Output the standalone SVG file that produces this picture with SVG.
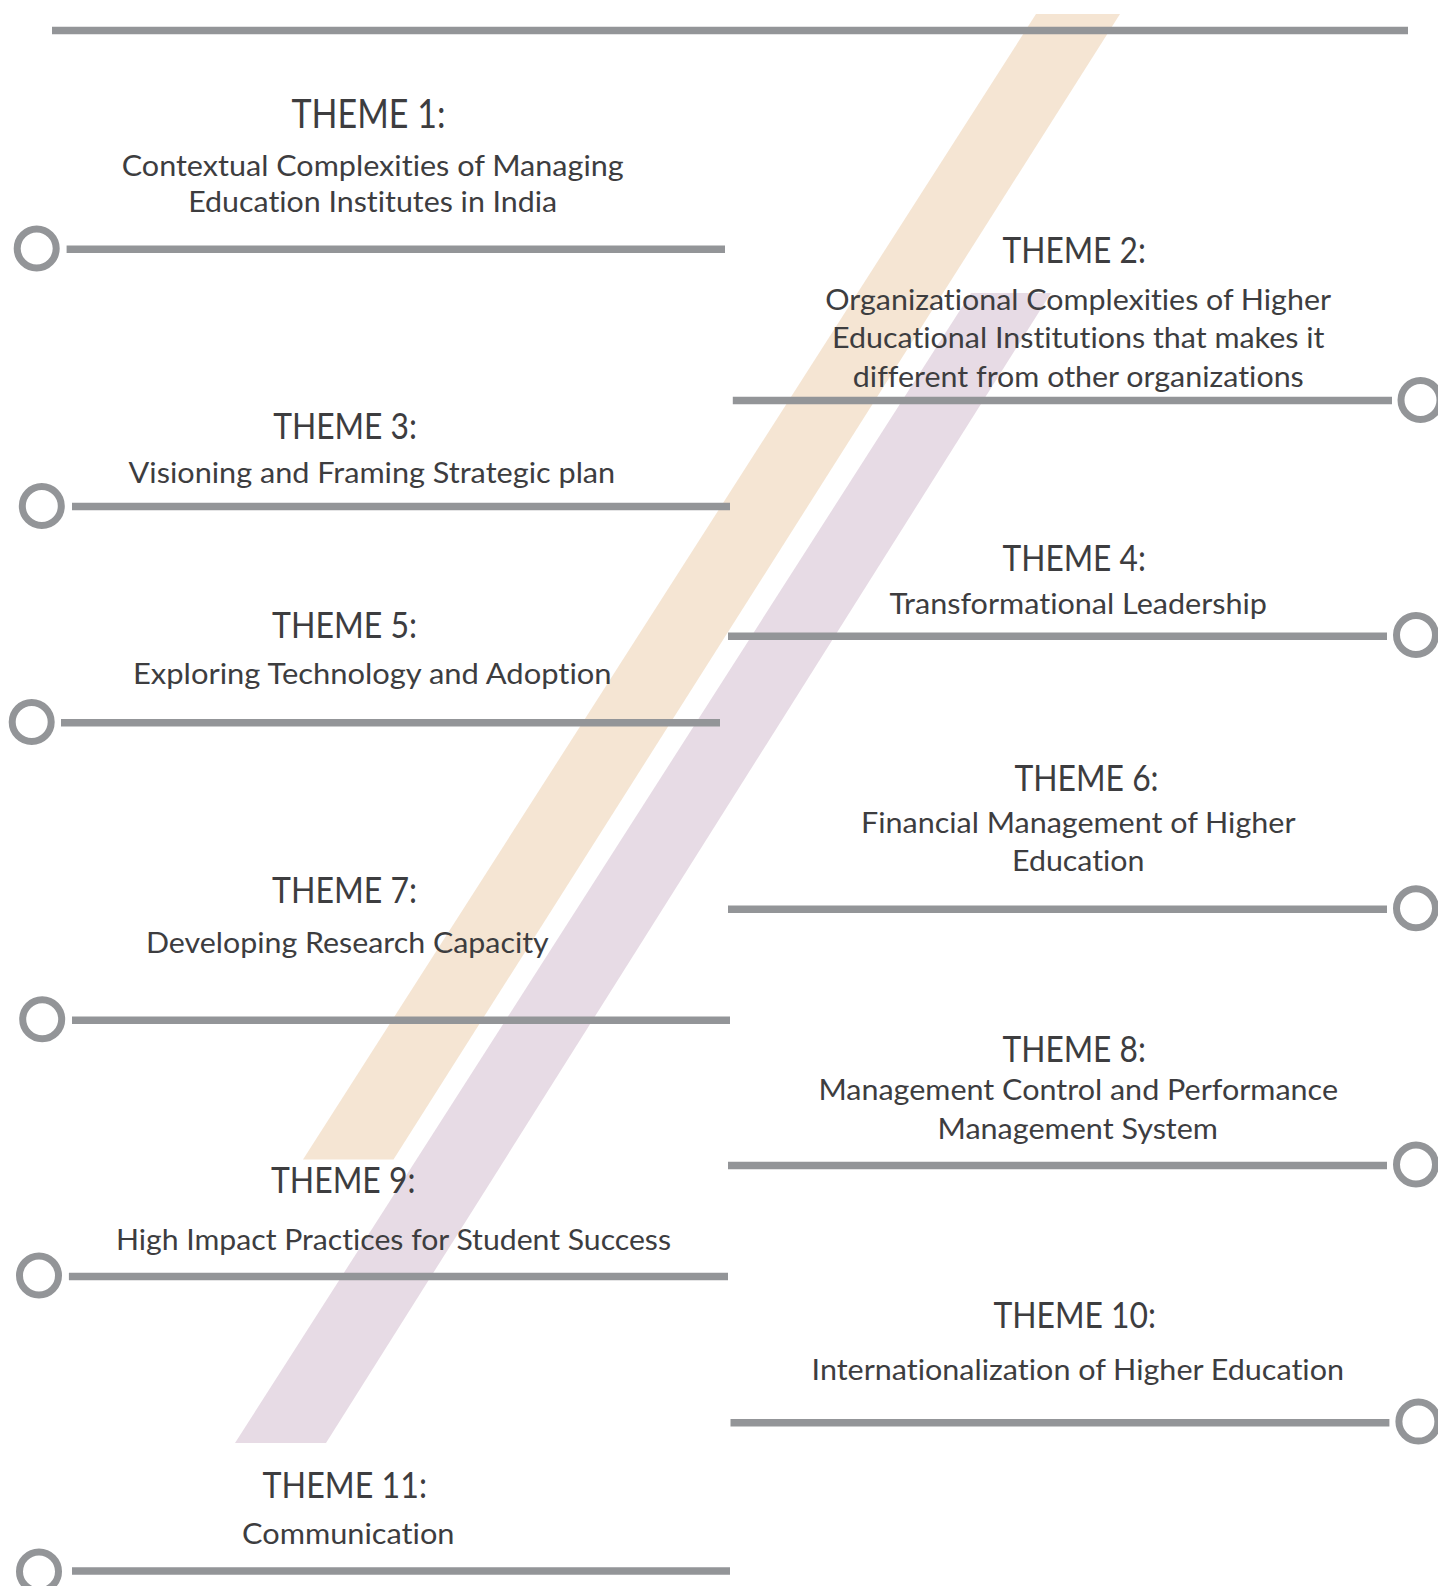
<svg xmlns="http://www.w3.org/2000/svg" width="1438" height="1586" viewBox="0 0 1438 1586">
<style>
.bo{fill:#f5e5d3}
.bp{fill:#e7dbe5}
.rule{stroke:#939598;stroke-width:7.5;fill:none}
.ring{fill:#fff;stroke:#939598;stroke-width:7}
text{font-family:Lato,"Open Sans","Liberation Sans",sans-serif;fill:#3d3d3f;font-variant-ligatures:none}
.t{font-size:37px}
.t1{font-size:40px}
.b{font-size:29px}
</style>
<rect width="1438" height="1586" fill="#fff"/>
<g id="bands">
<polygon class="bo" points="1036,14 1120,14 393.5,1159.4 303,1159.4"/>
<polygon class="bp" points="971,293 1051,293 326,1443 235,1443"/>
</g>
<g id="connectors">
<line class="rule" x1="52" y1="30.4" x2="1408" y2="30.4"/>
</g>
<g id="theme1">
<line class="rule" x1="66.6" y1="249.3" x2="725" y2="249.3"/>
<circle class="ring" cx="36.7" cy="248.5" r="19.5"/>
<text class="t1" x="291.5" y="128.3" textLength="154" lengthAdjust="spacingAndGlyphs">THEME 1:</text>
<text class="b" x="121.7" y="175.7" textLength="502" lengthAdjust="spacingAndGlyphs">Contextual Complexities of Managing</text>
<text class="b" x="188.2" y="211.7" textLength="369" lengthAdjust="spacingAndGlyphs">Education Institutes in India</text>
</g>
<g id="theme2">
<line class="rule" x1="732.8" y1="400.5" x2="1392" y2="400.5"/>
<circle class="ring" cx="1420.5" cy="400" r="19.5"/>
<text class="t" x="1002.5" y="263.3" textLength="143.3" lengthAdjust="spacingAndGlyphs">THEME 2:</text>
<text class="b" x="825.3" y="310" textLength="505.7" lengthAdjust="spacingAndGlyphs">Organizational Complexities of Higher</text>
<text class="b" x="832" y="348.3" textLength="492.4" lengthAdjust="spacingAndGlyphs">Educational Institutions that makes it</text>
<text class="b" x="852.8" y="386.6" textLength="451" lengthAdjust="spacingAndGlyphs">different from other organizations</text>
</g>
<g id="theme3">
<line class="rule" x1="72" y1="506.6" x2="730" y2="506.6"/>
<circle class="ring" cx="41.8" cy="506" r="19.5"/>
<text class="t" x="273.2" y="439.2" textLength="143.8" lengthAdjust="spacingAndGlyphs">THEME 3:</text>
<text class="b" x="128.6" y="483.4" textLength="486.6" lengthAdjust="spacingAndGlyphs">Visioning and Framing Strategic plan</text>
</g>
<g id="theme4">
<line class="rule" x1="728" y1="636.2" x2="1387" y2="636.2"/>
<circle class="ring" cx="1416" cy="635" r="19.5"/>
<text class="t" x="1002.5" y="571.4" textLength="143.3" lengthAdjust="spacingAndGlyphs">THEME 4:</text>
<text class="b" x="889.4" y="613.6" textLength="377.6" lengthAdjust="spacingAndGlyphs">Transformational Leadership</text>
</g>
<g id="theme5">
<line class="rule" x1="61" y1="722.8" x2="720" y2="722.8"/>
<circle class="ring" cx="31.7" cy="722" r="19.5"/>
<text class="t" x="272" y="637.5" textLength="145" lengthAdjust="spacingAndGlyphs">THEME 5:</text>
<text class="b" x="133" y="684" textLength="478.6" lengthAdjust="spacingAndGlyphs">Exploring Technology and Adoption</text>
</g>
<g id="theme6">
<line class="rule" x1="728" y1="909.2" x2="1387" y2="909.2"/>
<circle class="ring" cx="1416" cy="908.3" r="19.5"/>
<text class="t" x="1014.4" y="791" textLength="144.2" lengthAdjust="spacingAndGlyphs">THEME 6:</text>
<text class="b" x="861" y="833" textLength="434.5" lengthAdjust="spacingAndGlyphs">Financial Management of Higher</text>
<text class="b" x="1012" y="871.4" textLength="132.5" lengthAdjust="spacingAndGlyphs">Education</text>
</g>
<g id="theme7">
<line class="rule" x1="72" y1="1020.2" x2="730" y2="1020.2"/>
<circle class="ring" cx="42.2" cy="1019.2" r="19.5"/>
<text class="t" x="272" y="903" textLength="145" lengthAdjust="spacingAndGlyphs">THEME 7:</text>
<text class="b" x="146" y="953" textLength="402.7" lengthAdjust="spacingAndGlyphs">Developing Research Capacity</text>
</g>
<g id="theme8">
<line class="rule" x1="728" y1="1165.4" x2="1387" y2="1165.4"/>
<circle class="ring" cx="1416" cy="1164.5" r="19.5"/>
<text class="t" x="1002.5" y="1061.6" textLength="143.3" lengthAdjust="spacingAndGlyphs">THEME 8:</text>
<text class="b" x="818.4" y="1100" textLength="519.6" lengthAdjust="spacingAndGlyphs">Management Control and Performance</text>
<text class="b" x="937.5" y="1138.5" textLength="280.5" lengthAdjust="spacingAndGlyphs">Management System</text>
</g>
<g id="theme9">
<line class="rule" x1="68.9" y1="1276.5" x2="728" y2="1276.5"/>
<circle class="ring" cx="39" cy="1275.5" r="19.5"/>
<text class="t" x="271" y="1193" textLength="144.5" lengthAdjust="spacingAndGlyphs">THEME 9:</text>
<text class="b" x="116" y="1250" textLength="555" lengthAdjust="spacingAndGlyphs">High Impact Practices for Student Success</text>
</g>
<g id="theme10">
<line class="rule" x1="730.5" y1="1422.7" x2="1389.4" y2="1422.7"/>
<circle class="ring" cx="1418.4" cy="1421.6" r="19.5"/>
<text class="t" x="993.4" y="1328" textLength="162.6" lengthAdjust="spacingAndGlyphs">THEME 10:</text>
<text class="b" x="811.6" y="1380" textLength="532.4" lengthAdjust="spacingAndGlyphs">Internationalization of Higher Education</text>
</g>
<g id="theme11">
<line class="rule" x1="72" y1="1571" x2="730" y2="1571"/>
<circle class="ring" cx="39" cy="1571.5" r="19.5"/>
<text class="t" x="262.6" y="1498" textLength="164.4" lengthAdjust="spacingAndGlyphs">THEME 11:</text>
<text class="b" x="242" y="1544" textLength="212.5" lengthAdjust="spacingAndGlyphs">Communication</text>
</g>
</svg>
